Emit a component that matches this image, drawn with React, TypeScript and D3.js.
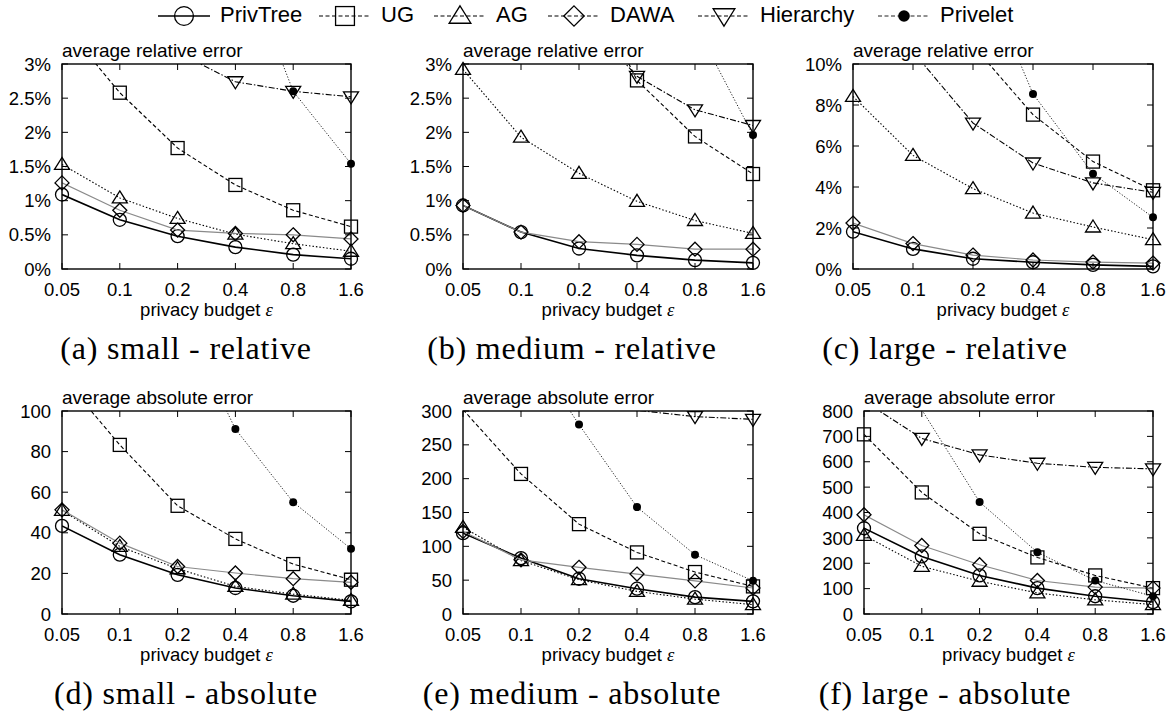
import React from 'react';
import * as d3 from 'd3';

const epsilons = ['0.05', '0.1', '0.2', '0.4', '0.8', '1.6'];
const methods = ['PrivTree', 'UG', 'AG', 'DAWA', 'Hierarchy', 'Privelet'];

// (a) small - relative (%)
const aPrivTree = [1.09, 0.72, 0.48, 0.32, 0.21, 0.15];
const aUG = [3.6, 2.58, 1.77, 1.23, 0.86, 0.62];
const aAG = [1.53, 1.04, 0.74, 0.51, 0.37, 0.26];
const aDAWA = [1.26, 0.86, 0.57, 0.52, 0.5, 0.44];
const aHierarchy = [4.4, 3.8, 3.17, 2.74, 2.6, 2.52];
const aPrivelet = [11, 9, 7, 4.8, 2.6, 1.54];
// (b) medium - relative (%)
const bPrivTree = [0.93, 0.54, 0.3, 0.2, 0.13, 0.09];
const bUG = [6.5, 5.5, 4.48, 2.76, 1.94, 1.39];
const bAG = [2.92, 1.93, 1.4, 0.99, 0.71, 0.52];
const bDAWA = [0.93, 0.54, 0.4, 0.36, 0.29, 0.29];
const bHierarchy = [5.0, 4.3, 3.74, 2.82, 2.33, 2.1];
const bPrivelet = [12, 9, 7, 5.0, 3.58, 1.96];
// (c) large - relative (%)
const cPrivTree = [1.82, 0.98, 0.5, 0.33, 0.2, 0.13];
const cUG = [16, 13.5, 10.9, 7.53, 5.24, 3.84];
const cAG = [8.42, 5.54, 3.92, 2.73, 2.05, 1.43];
const cDAWA = [2.24, 1.24, 0.68, 0.44, 0.34, 0.29];
const cHierarchy = [14.1, 10.6, 7.12, 5.17, 4.2, 3.74];
const cPrivelet = [25, 20, 15.5, 8.54, 4.65, 2.52];
// (d) small - absolute
const dPrivTree = [43.4, 29.2, 19.3, 12.8, 9.0, 6.2];
const dUG = [117, 83.3, 53.3, 37.0, 24.6, 16.9];
const dAG = [51.0, 33.3, 22.3, 13.6, 9.8, 6.7];
const dDAWA = [51.3, 34.9, 23.4, 20.2, 17.4, 15.6];
const dHierarchy = [260, 220, 190, 170, 160, 155];
const dPrivelet = [300, 220, 150, 91.1, 55.1, 32.1];
// (e) medium - absolute
const ePrivTree = [119.5, 82.6, 52.1, 37.4, 25.0, 18.7];
const eUG = [302, 207, 132.8, 91.0, 62.0, 40.8];
const eAG = [128, 79, 50.7, 33.4, 22.0, 13.8];
const eDAWA = [122, 80, 69, 59, 49, 38.4];
const eHierarchy = [420, 370, 330, 301, 291.7, 287.7];
const ePrivelet = [550, 409, 280, 158, 87.6, 49];
// (f) large - absolute
const fPrivTree = [338, 227, 152, 102, 70, 47];
const fUG = [708, 479, 316, 223, 152, 102];
const fAG = [310, 188, 129, 83, 56, 37];
const fDAWA = [391, 270, 194, 132, 106, 102];
const fHierarchy = [839, 692, 627, 594, 578, 572];
const fPrivelet = [1400, 805, 441, 243, 132, 70];

const relTicksA = [0, 0.5, 1, 1.5, 2, 2.5, 3];
const relTicksC = [0, 2, 4, 6, 8, 10];
const absTicksD = [0, 20, 40, 60, 80, 100];
const absTicksE = [0, 50, 100, 150, 200, 250, 300];
const absTicksF = [0, 100, 200, 300, 400, 500, 600, 700, 800];

const captions = [
  '(a) small - relative',
  '(b) medium - relative',
  '(c) large - relative',
  '(d) small - absolute',
  '(e) medium - absolute',
  '(f) large - absolute',
];

const panels = [
  { id: 'a', x0: 62, x1: 351, y0: 64, y1: 269, ticks: relTicksA, pct: true, title: 'average relative error', capX: 186,
    series: [aPrivTree, aUG, aAG, aDAWA, aHierarchy, aPrivelet] },
  { id: 'b', x0: 463, x1: 753, y0: 64, y1: 269, ticks: relTicksA, pct: true, title: 'average relative error', capX: 572,
    series: [bPrivTree, bUG, bAG, bDAWA, bHierarchy, bPrivelet] },
  { id: 'c', x0: 853, x1: 1153, y0: 64, y1: 269, ticks: relTicksC, pct: true, title: 'average relative error', capX: 945,
    series: [cPrivTree, cUG, cAG, cDAWA, cHierarchy, cPrivelet] },
  { id: 'd', x0: 62, x1: 351, y0: 411, y1: 614, ticks: absTicksD, pct: false, title: 'average absolute error', capX: 186,
    series: [dPrivTree, dUG, dAG, dDAWA, dHierarchy, dPrivelet] },
  { id: 'e', x0: 463, x1: 753, y0: 411, y1: 614, ticks: absTicksE, pct: false, title: 'average absolute error', capX: 572,
    series: [ePrivTree, eUG, eAG, eDAWA, eHierarchy, ePrivelet] },
  { id: 'f', x0: 864, x1: 1153, y0: 411, y1: 614, ticks: absTicksF, pct: false, title: 'average absolute error', capX: 945,
    series: [fPrivTree, fUG, fAG, fDAWA, fHierarchy, fPrivelet] },
];

const styles = [
  { stroke: '#000', width: 1.6, dash: undefined as string | undefined },
  { stroke: '#000', width: 1.1, dash: '4,2.5' },
  { stroke: '#000', width: 1.1, dash: '1.5,2' },
  { stroke: '#8a8a8a', width: 1.2, dash: undefined },
  { stroke: '#000', width: 1.1, dash: '6,2,1.5,2' },
  { stroke: '#222', width: 1.0, dash: '1.2,1.8' },
];

const SANS = '"Liberation Sans", Arial, Helvetica, sans-serif';
const SERIF = '"Liberation Serif", "Times New Roman", serif';

function Marker({ kind, x, y, s = 1 }: { kind: number; x: number; y: number; s?: number }) {
  const common = { fill: 'none', stroke: '#000', strokeWidth: 1.3 };
  switch (kind) {
    case 0:
      return <circle cx={x} cy={y} r={6.5 * s} {...common} />;
    case 1:
      return <rect x={x - 6.5 * s} y={y - 6.5 * s} width={13 * s} height={13 * s} {...common} />;
    case 2:
      return <polygon points={`${x},${y - 7 * s} ${x + 7.5 * s},${y + 5 * s} ${x - 7.5 * s},${y + 5 * s}`} {...common} />;
    case 3:
      return <polygon points={`${x},${y - 7 * s} ${x + 7 * s},${y} ${x},${y + 7 * s} ${x - 7 * s},${y}`} {...common} />;
    case 4:
      return <polygon points={`${x},${y + 7 * s} ${x + 7.5 * s},${y - 5 * s} ${x - 7.5 * s},${y - 5 * s}`} {...common} />;
    default:
      return <circle cx={x} cy={y} r={4 * s} fill="#000" stroke="none" />;
  }
}

function Panel({ p, caption }: { p: typeof panels[number]; caption: string }) {
  const x = d3.scalePoint<string>().domain(epsilons).range([p.x0, p.x1]).padding(0);
  const yMax = p.ticks[p.ticks.length - 1];
  const y = d3.scaleLinear().domain([0, yMax]).range([p.y1, p.y0]);
  const line = d3
    .line<number>()
    .x((_, i) => x(epsilons[i]) as number)
    .y((v) => y(v));
  const fmt = (t: number) => (p.pct ? `${t}%` : `${t}`);
  const tl = 6;
  const clipId = `clip-${p.id}`;
  const cx = (p.x0 + p.x1) / 2;
  return (
    <g>
      <defs>
        <clipPath id={clipId}>
          <rect x={p.x0} y={p.y0} width={p.x1 - p.x0} height={p.y1 - p.y0} />
        </clipPath>
      </defs>
      {epsilons.map((e) => {
        const xx = x(e) as number;
        return (
          <g key={e}>
            <line x1={xx} x2={xx} y1={p.y1} y2={p.y1 - tl} stroke="#000" strokeWidth={1} />
            <line x1={xx} x2={xx} y1={p.y0} y2={p.y0 + tl} stroke="#000" strokeWidth={1} />
            <text x={xx} y={p.y1 + 27} textAnchor="middle" fontFamily={SANS} fontSize={18.5}>
              {e}
            </text>
          </g>
        );
      })}
      {p.ticks.map((t) => {
        const yy = y(t);
        return (
          <g key={t}>
            <line x1={p.x0} x2={p.x0 + tl} y1={yy} y2={yy} stroke="#000" strokeWidth={1} />
            <line x1={p.x1} x2={p.x1 - tl} y1={yy} y2={yy} stroke="#000" strokeWidth={1} />
            <text x={p.x0 - 11} y={yy} dy="0.36em" textAnchor="end" fontFamily={SANS} fontSize={18.5}>
              {fmt(t)}
            </text>
          </g>
        );
      })}
      {p.series.map((vals, si) => {
        const st = styles[si];
        return (
          <g key={si}>
            <path
              d={line(vals) || ''}
              fill="none"
              stroke={st.stroke}
              strokeWidth={st.width}
              strokeDasharray={st.dash}
              clipPath={`url(#${clipId})`}
            />
            {vals.map((v, i) =>
              v <= yMax * 1.002 ? <Marker key={i} kind={si} x={x(epsilons[i]) as number} y={y(v)} /> : null
            )}
          </g>
        );
      })}
      <rect x={p.x0} y={p.y0} width={p.x1 - p.x0} height={p.y1 - p.y0} fill="none" stroke="#000" strokeWidth={1.4} />
      <text x={p.x0} y={p.y0 - 7} fontFamily={SANS} fontSize={19}>
        {p.title}
      </text>
      <text x={cx} y={p.y1 + 47} textAnchor="middle" fontFamily={SANS} fontSize={18.5}>
        privacy budget{' '}
        <tspan fontFamily={SERIF} fontStyle="italic">
          ε
        </tspan>
      </text>
      <text x={p.capX} y={p.y1 + 90} textAnchor="middle" fontFamily={SERIF} fontSize={32} letterSpacing={0.8}>
        {caption}
      </text>
    </g>
  );
}

const legendX = [158, 319, 434, 548, 698, 878];

export default function App() {
  return (
    <svg
      width={1173}
      height={717}
      style={{ position: 'absolute', left: 0, top: 0, background: '#fff' }}
      xmlns="http://www.w3.org/2000/svg"
    >
      <rect x={0} y={0} width={1173} height={717} fill="#fff" />
      {methods.map((m, i) => {
        const lx = legendX[i];
        const st = styles[i];
        const ly = 16;
        return (
          <g key={m}>
            <line
              x1={lx}
              x2={lx + 52}
              y1={ly}
              y2={ly}
              stroke={i === 3 ? '#000' : st.stroke}
              strokeWidth={st.width}
              strokeDasharray={i === 0 ? undefined : '4,2.5'}
            />
            <Marker kind={i} x={lx + 26} y={ly} s={1.45} />
            <text x={lx + 62} y={ly + 6} fontFamily={SANS} fontSize={22}>
              {m}
            </text>
          </g>
        );
      })}
      {panels.map((p, i) => (
        <Panel key={p.id} p={p} caption={captions[i]} />
      ))}
    </svg>
  );
}
